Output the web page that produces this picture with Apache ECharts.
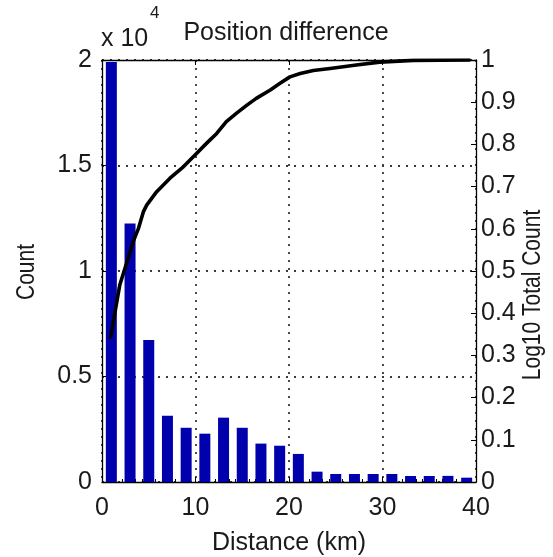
<!DOCTYPE html>
<html>
<head>
<meta charset="utf-8">
<script src="https://cdn.jsdelivr.net/npm/echarts@6/dist/echarts.min.js"></script>
<style>
  html, body { margin: 0; padding: 0; background: #fff; }
  #chart { width: 553px; height: 557px; }
</style>
</head>
<body>
<div id="chart"></div>
<script>
// Histogram bin centres (km) and counts per bin
const binCentres = [1, 3, 5, 7, 9, 11, 13, 15, 17, 19, 21, 23, 25, 27, 29, 31, 33, 35, 37, 39];
const binCounts = [19900, 12250, 6730, 3140, 2570, 2290, 3050, 2570, 1820, 1720,
                   1330, 490, 380, 380, 380, 380, 285, 285, 290, 205];

// Cumulative curve, right-hand axis
const curveDistance = [0.9, 1.9, 3.35, 3.9, 4.42, 4.78, 5.85, 7.27, 8.7, 9.95, 11.2, 12.27,
                       13.3, 14.4, 15.5, 16.5, 18.0, 19.04, 20.1, 21.2, 22.6, 24.4, 27.2,
                       29.7, 33.3, 39.4];
const curveValue = [0.34, 0.467, 0.57, 0.601, 0.64, 0.656, 0.688, 0.72, 0.747, 0.775, 0.803,
                    0.826, 0.854, 0.874, 0.893, 0.909, 0.929, 0.945, 0.96, 0.968, 0.975,
                    0.98, 0.988, 0.995, 0.999, 1.0];

// Axis tick settings
const xTickStep = 10;
const countTickStep = 5000;
const countScale = 10000;
const fractionTickStep = 0.1;

const FONT = "'Liberation Sans', Arial, Helvetica, sans-serif";
const TEXT = '#1a1a1a';
const FS = 25;
const FS_SIDE = 21;

const chart = echarts.init(document.getElementById('chart'), null, { renderer: 'canvas' });

const dotted = { color: '#3a3a3a', width: 1.8, type: [2, 6] };

chart.setOption({
  backgroundColor: '#ffffff',
  animation: false,
  title: {
    text: 'Position difference',
    left: 286,
    top: 21,
    textAlign: 'center',
    padding: 0,
    textStyle: { fontFamily: FONT, fontSize: FS, fontWeight: 'normal', color: TEXT }
  },
  grid: { left: 102, right: 77, top: 60, bottom: 75, containLabel: false, outerBoundsMode: 'none' },
  xAxis: [
    {
      type: 'value', position: 'bottom', min: 0, max: 40, interval: xTickStep,
      name: 'Distance (km)', nameLocation: 'middle', nameGap: 49,
      nameTextStyle: { fontFamily: FONT, fontSize: FS, color: TEXT },
      axisLine: { show: true, onZero: false, lineStyle: { color: '#000', width: 1.3 } },
      axisTick: { show: true, inside: true, length: 5, lineStyle: { color: '#000' } },
      minorTick: { show: true, splitNumber: 14, length: 3, lineStyle: { color: '#000' } },
      axisLabel: { fontFamily: FONT, fontSize: FS, color: TEXT, margin: 14 },
      splitLine: { show: true, lineStyle: dotted }
    },
    {
      type: 'value', position: 'top', min: 0, max: 40, interval: xTickStep,
      axisLine: { show: true, onZero: false, lineStyle: { color: '#000', width: 1.3 } },
      axisTick: { show: true, inside: true, length: 5, lineStyle: { color: '#000' } },
      axisLabel: { show: false },
      splitLine: { show: false }
    }
  ],
  yAxis: [
    {
      type: 'value', position: 'left', min: 0, max: 20000, interval: countTickStep,
      axisLine: { show: true, onZero: false, lineStyle: { color: '#000', width: 1.3 } },
      axisTick: { show: true, inside: true, length: 5, lineStyle: { color: '#000' } },
      axisLabel: {
        fontFamily: FONT, fontSize: FS, color: TEXT, margin: 10,
        formatter: v => String(v / countScale)
      },
      splitLine: { show: true, lineStyle: dotted }
    },
    {
      type: 'value', position: 'right', min: 0, max: 1, interval: fractionTickStep,
      axisLine: { show: true, onZero: false, lineStyle: { color: '#000', width: 1.3 } },
      axisTick: { show: true, inside: true, length: 5, lineStyle: { color: '#000' } },
      axisLabel: {
        fontFamily: FONT, fontSize: FS, color: TEXT, margin: 5,
        formatter: v => String(Math.round(v * 10) / 10)
      },
      splitLine: { show: false }
    }
  ],
  graphic: [
    {
      type: 'text', left: 101, top: 27,
      style: { text: 'x 10', font: FS + 'px ' + FONT, fill: TEXT }
    },
    {
      type: 'text', left: 150, top: 5,
      style: { text: '4', font: '17px ' + FONT, fill: TEXT }
    },
    {
      type: 'text', x: 27, y: 272, rotation: Math.PI / 2, scaleY: 1.2,
      style: { text: 'Count', font: FS_SIDE + 'px ' + FONT, fill: TEXT, align: 'center', verticalAlign: 'middle' }
    },
    {
      type: 'text', x: 533, y: 295, rotation: Math.PI / 2, scaleY: 1.2,
      style: { text: 'Log10 Total Count', font: FS_SIDE + 'px ' + FONT, fill: TEXT, align: 'center', verticalAlign: 'middle' }
    }
  ],
  series: [
    {
      type: 'bar', xAxisIndex: 0, yAxisIndex: 0,
      barWidth: 11,
      itemStyle: { color: '#0000AC' },
      data: binCentres.map((x, i) => [x, binCounts[i]]),
      z: 2
    },
    {
      type: 'line', xAxisIndex: 0, yAxisIndex: 1,
      showSymbol: false, symbol: 'none',
      lineStyle: { color: '#000', width: 3.6, join: 'round' },
      data: curveDistance.map((x, i) => [x, curveValue[i]]),
      z: 3
    }
  ]
});
</script>
</body>
</html>
